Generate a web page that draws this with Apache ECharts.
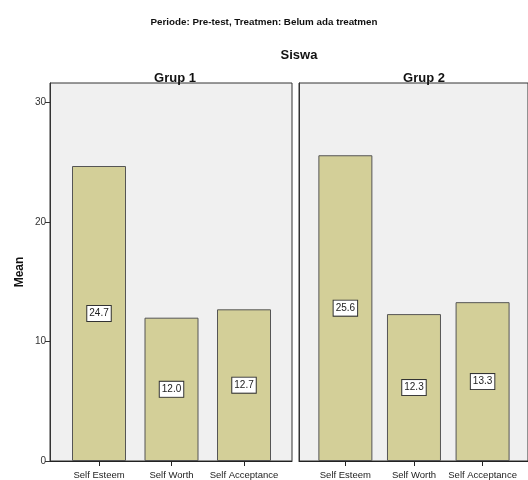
<!DOCTYPE html>
<html><head><meta charset="utf-8">
<script src="https://cdn.jsdelivr.net/npm/echarts@6/dist/echarts.min.js"></script>
<style>html,body{margin:0;padding:0;background:#fff}#c{width:528px;height:480px}</style>
</head><body><div id="c"></div>
<script>
const categories = ['Self Esteem', 'Self Worth', 'Self Acceptance'];
const groups = ['Grup 1', 'Grup 2'];
const grup1 = [24.7, 12.0, 12.7];
const grup2 = [25.6, 12.3, 13.3];
const yTicks = [0, 10, 20, 30];
const yMax = 31.65;

const FONT = '"Liberation Sans", Arial, sans-serif';
const chart = echarts.init(document.getElementById('c'));
const panels = [{left: 50, vals: grup1}, {left: 299, vals: grup2}];
const idx = categories.map((c, i) => i);

const option = {
  animation: false,
  title: [
    {text: 'Periode: Pre-test, Treatmen: Belum ada treatmen', left: 'center', top: 12,
     textStyle: {fontFamily: FONT, fontSize: 9.8, fontWeight: 'bold', color: '#111'}},
    {text: 'Siswa', left: 294, top: 44, textAlign: 'center',
     textStyle: {fontFamily: FONT, fontSize: 13, fontWeight: 'bold', color: '#111'}},
    {text: groups[0], left: 170, top: 67, textAlign: 'center',
     textStyle: {fontFamily: FONT, fontSize: 13, fontWeight: 'bold', color: '#111'}},
    {text: groups[1], left: 419, top: 67, textAlign: 'center',
     textStyle: {fontFamily: FONT, fontSize: 13, fontWeight: 'bold', color: '#111'}}
  ],
  grid: panels.map(p => ({left: p.left, top: 83, width: 242, height: 378, show: true,
    backgroundColor: '#f0f0f0', borderColor: '#333', borderWidth: 1})),
  xAxis: panels.map((p, g) => ({
    type: 'value', gridIndex: g, min: -0.676, max: 2.662,
    splitLine: {show: false},
    axisLine: {show: true, onZero: false, lineStyle: {color: '#222', width: 1}},
    axisTick: {show: true, length: 5, lineStyle: {color: '#222'}, customValues: idx},
    axisLabel: {customValues: idx, formatter: v => categories[Math.round(v)],
      fontFamily: FONT, fontSize: 9.5, color: '#222', margin: 9}
  })),
  yAxis: panels.map((p, g) => ({
    type: 'value', gridIndex: g, min: 0, max: yMax,
    splitLine: {show: false},
    name: g === 0 ? 'Mean' : '', nameLocation: 'middle', nameRotate: 90, nameGap: 24,
    nameTextStyle: {fontFamily: FONT, fontSize: 12, fontWeight: 'bold', color: '#111'},
    axisLine: {show: true, onZero: false, lineStyle: {color: '#333'}},
    axisTick: {show: g === 0, length: 5, lineStyle: {color: '#333'}, customValues: yTicks},
    axisLabel: {show: g === 0, customValues: yTicks, fontFamily: FONT, fontSize: 10, color: '#333', margin: 4}
  })),
  series: panels.map((p, g) => ({
    type: 'bar', xAxisIndex: g, yAxisIndex: g, barWidth: 54,
    data: p.vals.map((v, i) => [idx[i], v]),
    itemStyle: {color: '#d3cf98', borderColor: '#555', borderWidth: 1},
    label: {show: true, position: 'inside', formatter: d => d.value[1].toFixed(1),
      fontFamily: FONT, fontSize: 10, color: '#222', backgroundColor: '#fff',
      borderColor: '#333', borderWidth: 1, padding: [3, 2, 2, 2]}
  }))
};
chart.setOption(option);
</script></body></html>
